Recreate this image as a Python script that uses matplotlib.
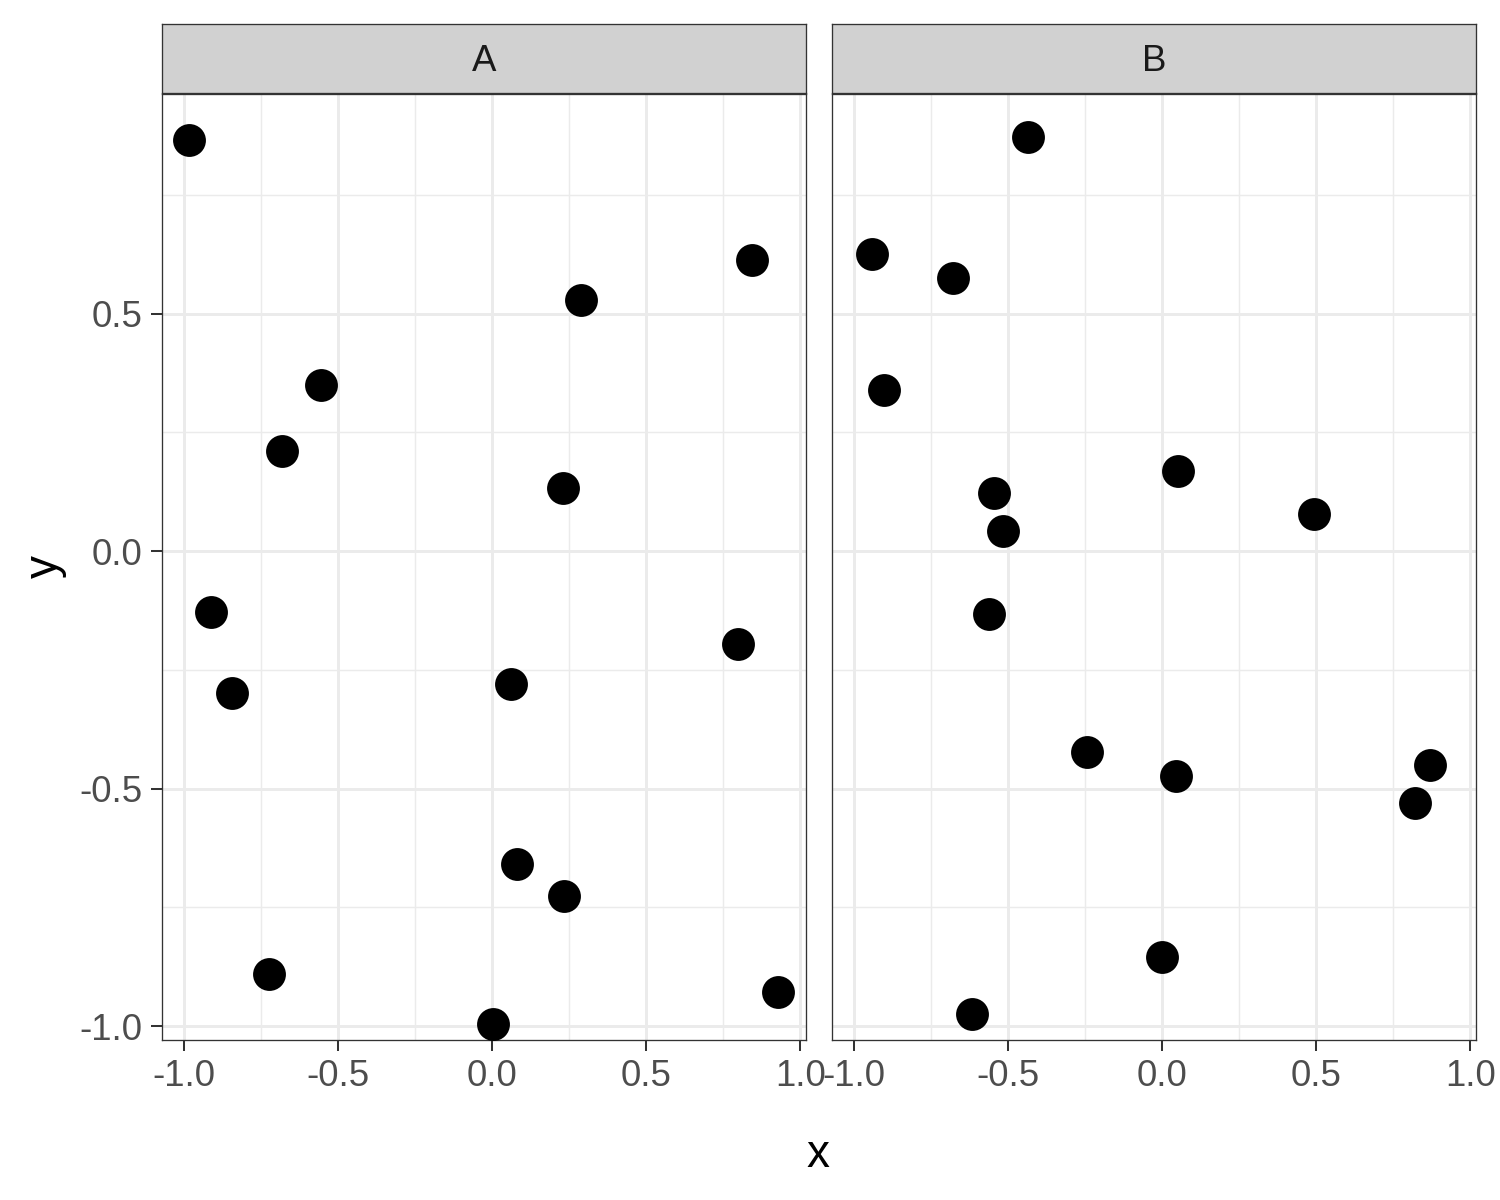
import matplotlib
matplotlib.use("Agg")
import matplotlib.pyplot as plt
import numpy as np

plt.rcParams["font.family"] = ["Liberation Sans", "DejaVu Sans"]

# facet A
ax_x = [-0.982, 0.843, 0.288, -0.554, -0.681, 0.230, -0.911, 0.797, -0.843,
        0.062, 0.081, 0.233, -0.723, 0.927, 0.003]
ax_y = [0.865, 0.613, 0.528, 0.349, 0.211, 0.133, -0.128, -0.196, -0.299,
        -0.280, -0.659, -0.726, -0.891, -0.928, -0.996]
# facet B
bx_x = [-0.434, -0.940, -0.677, -0.901, -0.545, -0.515, 0.052, 0.493, -0.561,
        -0.243, 0.045, 0.869, 0.820, 0.000, -0.615]
bx_y = [0.872, 0.625, 0.575, 0.339, 0.122, 0.042, 0.168, 0.078, -0.133,
        -0.423, -0.474, -0.451, -0.531, -0.855, -0.975]

facets = ["A", "B"]
data = {"A": (ax_x, ax_y), "B": (bx_x, bx_y)}

major = [-1.0, -0.5, 0.0, 0.5, 1.0]
minor = [-0.75, -0.25, 0.25, 0.75]
labels = ["-1.0", "-0.5", "0.0", "0.5", "1.0"]

W, H = 1500, 1200
fig = plt.figure(figsize=(15, 12), dpi=100)

lefts = [162, 832]
pw = 644
ptop, pbot = 94, 1040
stop = 24

for i, name in enumerate(facets):
    l = lefts[i]
    ax = fig.add_axes([l / W, 1 - pbot / H, pw / W, (pbot - ptop) / H])
    xs, ys = data[name]
    ax.scatter(xs, ys, s=560, color="black", linewidths=0, zorder=3)
    ax.set_xlim(-1.070, 1.018)
    ax.set_ylim(-1.029, 0.962)
    ax.set_xticks(major)
    ax.set_xticklabels(labels)
    ax.set_xticks(minor, minor=True)
    ax.set_yticks(major[:-1])
    ax.set_yticks(minor, minor=True)
    ax.grid(which="major", color="#EBEBEB", linewidth=2.1, zorder=0)
    ax.grid(which="minor", color="#EBEBEB", linewidth=1.05, zorder=0)
    ax.set_axisbelow(True)
    ax.tick_params(axis="both", which="major", length=8, width=1.45,
                   color="#333333", labelcolor="#4D4D4D", labelsize=26.4, pad=6)
    ax.tick_params(axis="both", which="minor", length=0)
    if i == 0:
        ax.set_yticklabels(labels[:-1])
    else:
        ax.tick_params(axis="y", which="major", labelleft=False, length=0)
    for sp in ax.spines.values():
        sp.set_color("#333333")
        sp.set_linewidth(0.95)

    sax = fig.add_axes([l / W, 1 - (ptop - 1) / H, pw / W, (ptop - 1 - stop) / H])
    sax.set_facecolor("#D1D1D1")
    sax.set_xticks([])
    sax.set_yticks([])
    for sp in sax.spines.values():
        sp.set_color("#333333")
        sp.set_linewidth(0.95)
    sax.text(0.5, 0.45, name, ha="center", va="center", fontsize=26.4,
             color="#1A1A1A", transform=sax.transAxes)

fig.text(818 / W, 1 - 1155 / H, "x", ha="center", va="center", fontsize=33)
fig.text(45 / W, 1 - 567 / H, "y", ha="center", va="center", fontsize=33,
         rotation=90)

fig.savefig("out.png", dpi=100)
